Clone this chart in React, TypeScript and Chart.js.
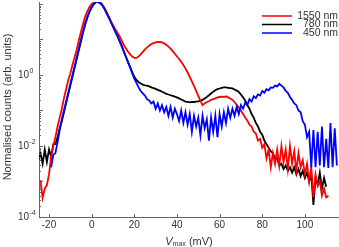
import { useEffect, useRef } from "react";
import { Chart, registerables } from "chart.js";
Chart.register(...registerables);

// x grid (mV)
const xs: number[] = [
  -25, -24, -23, -22, -21, -20, -19, -18, -17, -16,
  -15, -14, -13, -12, -11, -10, -9, -8, -7, -6,
  -5, -4, -3, -2, -1, 0, 1, 2, 3, 4,
  5, 6, 7, 8, 9, 10, 11, 12, 13, 14,
  15, 16, 17, 18, 19, 20, 21, 22, 23, 24,
  25, 26, 27, 28, 29, 30, 31, 32, 33, 34,
  35, 36, 37, 38, 39, 40, 41, 42, 43, 44,
  45, 46, 47, 48, 49, 50, 51, 52, 53, 54,
  55, 56, 57, 58, 59, 60, 61, 62, 63, 64,
  65, 66, 67, 68, 69, 70, 71, 72, 73, 74,
  75, 76, 77, 78, 79, 80, 81, 82, 83, 84,
  85, 86, 87, 88, 89, 90, 91, 92, 93, 94,
  95, 96, 97, 98, 99, 100, 101, 102, 103, 104,
  105, 106, 107, 108, 109, 110, 111, 112, 113, 114,
  115,
];

// log10 of normalised counts
const red1550: (number | null)[] = [
  null, -2.96, -3.46, -3.2, -3.1, -2.8, -2.3, -2.0, -1.75, -1.45,
  -1.2, -0.95, -0.65, -0.4, -0.15, 0.05, 0.28, 0.5, 0.72, 0.98,
  1.22, 1.45, 1.65, 1.8, 1.92, 2.0, 2.04, 2.06, 2.06, 2.03,
  1.97, 1.88, 1.76, 1.65, 1.52, 1.4, 1.3, 1.2, 1.1, 0.98,
  0.86, 0.75, 0.66, 0.58, 0.52, 0.48, 0.48, 0.52, 0.58, 0.65,
  0.72, 0.78, 0.83, 0.87, 0.9, 0.92, 0.93, 0.93, 0.92, 0.89,
  0.85, 0.8, 0.74, 0.67, 0.6, 0.52, 0.45, 0.37, 0.28, 0.18,
  0.07, -0.05, -0.18, -0.31, -0.45, -0.59, -0.72, -0.85, -0.8, -0.76,
  -0.74, -0.7, -0.68, -0.66, -0.63, -0.62, -0.61, -0.62, -0.6, -0.63,
  -0.66, -0.7, -0.76, -0.84, -0.92, -1.0, -1.1, -1.2, -1.28, -1.4,
  -1.45, -1.6, -1.65, -1.85, -1.8, -2.05, -1.95, -2.35, -2.1, -2.6,
  -2.2, -2.5, -2.1, -2.55, -2.0, -2.45, -2.1, -2.65, -2.0, -2.5,
  -2.15, -2.7, -2.2, -2.6, -2.4, -2.8, -2.5, -3.0, -2.6, -3.45,
  -2.8, -3.1, -3.0, -3.4, -3.2, -3.45, -3.4, null, null, null,
  null,
];

const black780: (number | null)[] = [
  -2.4, -2.2, -2.5, -2.1, -2.45, -2.1, -2.3, -1.95, -1.95, -1.75,
  -1.5, -1.3, -1.05, -0.8, -0.55, -0.3, -0.05, 0.2, 0.45, 0.7,
  0.95, 1.2, 1.43, 1.62, 1.78, 1.9, 1.99, 2.05, 2.07, 2.05,
  1.98, 1.88, 1.76, 1.63, 1.5, 1.37, 1.24, 1.12, 0.98, 0.84,
  0.68, 0.52, 0.37, 0.23, 0.08, -0.05, -0.14, -0.2, -0.24, -0.27,
  -0.29, -0.3, -0.32, -0.35, -0.37, -0.39, -0.42, -0.44, -0.47, -0.5,
  -0.53, -0.55, -0.57, -0.59, -0.61, -0.63, -0.66, -0.69, -0.72, -0.75,
  -0.76, -0.77, -0.76, -0.76, -0.75, -0.74, -0.72, -0.7, -0.66, -0.62,
  -0.57, -0.52, -0.47, -0.43, -0.4, -0.38, -0.36, -0.35, -0.35, -0.36,
  -0.37, -0.38, -0.41, -0.44, -0.48, -0.55, -0.63, -0.72, -0.85, -0.95,
  -1.1, -1.2, -1.35, -1.45, -1.6, -1.68, -1.85, -1.95, -2.05, -2.15,
  -2.2, -2.35, -2.35, -2.55, -2.5, -2.65, -2.55, -2.7, -2.6, -2.75,
  -2.6, -2.8, -2.65, -2.85, -2.7, -2.9, -2.75, -3.0, -2.8, -3.66,
  -2.9, -3.1, -2.75, -3.2, -2.9, -3.15, null, null, null, null,
  null,
];

const blue450: (number | null)[] = [
  null, null, null, null, null, null, -2.6, -2.25, -2.2, -1.9,
  -1.55, -1.25, -1.0, -0.75, -0.5, -0.25, 0.0, 0.25, 0.5, 0.75,
  1.0, 1.24, 1.46, 1.64, 1.8, 1.92, 2.0, 2.05, 2.05, 2.02,
  1.96, 1.86, 1.74, 1.62, 1.49, 1.36, 1.23, 1.1, 0.96, 0.82,
  0.67, 0.52, 0.37, 0.22, 0.05, -0.1, -0.22, -0.35, -0.45, -0.52,
  -0.58, -0.68, -0.72, -0.8, -0.75, -0.95, -0.8, -1.0, -0.85, -1.05,
  -0.9, -1.15, -0.9, -1.2, -0.95, -1.1, -1.3, -1.0, -1.35, -1.05,
  -1.4, -1.1, -1.6, -1.15, -1.45, -1.2, -1.7, -1.15, -1.5, -1.25,
  -1.85, -1.2, -1.6, -1.15, -1.75, -1.1, -1.45, -1.05, -1.35, -0.95,
  -1.2, -0.95, -1.15, -0.9, -1.1, -0.85, -0.95, -0.78, -0.85, -0.68,
  -0.75, -0.6, -0.65, -0.55, -0.58, -0.45, -0.5, -0.4, -0.43, -0.35,
  -0.36, -0.3, -0.32, -0.25, -0.3, -0.35, -0.45, -0.5, -0.62, -0.7,
  -0.8, -0.85, -1.0, -1.05, -1.3, -1.4, -1.75, -1.6, -2.6, -1.55,
  -2.6, -1.6, -2.55, -1.45, -2.6, -1.8, -2.62, -1.35, -2.6, -1.5,
  -2.55,
];

const seriesLabels = ["1550 nm", "780 nm", "450 nm"];
const seriesColors = ["#ff0000", "#000000", "#0000ff"];
const xTickValues = [-20, 0, 20, 40, 60, 80, 100];
const yLabelExponents = [-4, -2, 0];

const FONT = '"Liberation Sans", Arial, Helvetica, sans-serif';
const AXIS = "#666666";
const TEXT = "#333333";

const toPoints = (logs: (number | null)[]) =>
  xs.map((x, i) => ({ x, y: logs[i] == null ? null : Math.pow(10, logs[i] as number) }));

const decorPlugin = {
  id: "decor",
  afterDraw(chart: any) {
    const { ctx, chartArea: a, scales } = chart;
    const sx = scales.x;
    const sy = scales.y;
    ctx.save();
    ctx.strokeStyle = AXIS;
    ctx.lineWidth = 1;
    ctx.beginPath();
    for (const v of xTickValues) {
      const px = Math.round(sx.getPixelForValue(v)) + 0.5;
      ctx.moveTo(px, a.bottom);
      ctx.lineTo(px, a.bottom - 3);
    }
    for (let e = -4; e <= 2; e++) {
      for (let m = 1; m <= 9; m++) {
        const v = m * Math.pow(10, e);
        if (v > sy.max) break;
        const py = Math.round(sy.getPixelForValue(v)) + 0.5;
        ctx.moveTo(a.left, py);
        ctx.lineTo(a.left + (m === 1 ? 4 : 2), py);
      }
    }
    ctx.stroke();

    ctx.fillStyle = TEXT;
    // x tick labels
    ctx.font = `10px ${FONT}`;
    ctx.textAlign = "center";
    ctx.textBaseline = "middle";
    for (const v of xTickValues) {
      ctx.fillText(String(v), sx.getPixelForValue(v), a.bottom + 8);
    }
    // y tick labels 10^e
    for (const e of yLabelExponents) {
      const py = sy.getPixelForValue(Math.pow(10, e));
      ctx.font = `10px ${FONT}`;
      ctx.textAlign = "right";
      ctx.textBaseline = "middle";
      ctx.fillText("10", 29, py);
      ctx.font = `7px ${FONT}`;
      ctx.textAlign = "left";
      ctx.fillText(String(e), 29.5, py - 4);
    }
    // y title
    ctx.save();
    ctx.translate(8, 107);
    ctx.rotate(-Math.PI / 2);
    ctx.font = `11px ${FONT}`;
    ctx.textAlign = "center";
    ctx.textBaseline = "middle";
    ctx.fillText("Normalised counts (arb. units)", 0, 0);
    ctx.restore();
    // x title
    ctx.textBaseline = "alphabetic";
    ctx.textAlign = "left";
    ctx.font = `italic 11px ${FONT}`;
    const partV = "V";
    const partSub = "max";
    const partRest = " (mV)";
    const wV = ctx.measureText(partV).width;
    ctx.font = `7px ${FONT}`;
    const wS = ctx.measureText(partSub).width;
    ctx.font = `11px ${FONT}`;
    const wR = ctx.measureText(partRest).width;
    let tx = (a.left + a.right) / 2 - (wV + wS + wR) / 2;
    const base = 245;
    ctx.font = `italic 11px ${FONT}`;
    ctx.fillText(partV, tx, base);
    tx += wV;
    ctx.font = `7px ${FONT}`;
    ctx.fillText(partSub, tx, base + 1);
    tx += wS;
    ctx.font = `11px ${FONT}`;
    ctx.fillText(partRest, tx, base);

    // legend
    const ly = [16, 24.5, 33];
    ctx.font = `10.5px ${FONT}`;
    ctx.textAlign = "right";
    ctx.textBaseline = "middle";
    seriesLabels.forEach((lab, i) => {
      ctx.strokeStyle = seriesColors[i];
      ctx.lineWidth = 1.5;
      ctx.beginPath();
      ctx.moveTo(262, ly[i]);
      ctx.lineTo(292, ly[i]);
      ctx.stroke();
      ctx.fillStyle = TEXT;
      ctx.fillText(lab, 338, ly[i]);
    });
    ctx.restore();
  },
};

export default function App() {
  const ref = useRef<HTMLCanvasElement | null>(null);
  useEffect(() => {
    if (!ref.current) return;
    const seriesLogs = [red1550, black780, blue450];
    const orders = [1, 2, 0];
    const chart = new Chart(ref.current, {
      type: "line",
      data: {
        datasets: seriesLogs.map((logs, i) => ({
          label: seriesLabels[i],
          data: toPoints(logs) as any,
          borderColor: seriesColors[i],
          borderWidth: 1.8,
          pointRadius: 0,
          tension: 0,
          spanGaps: false,
          order: orders[i],
        })),
      },
      options: {
        animation: false,
        responsive: false,
        maintainAspectRatio: false,
        layout: { padding: { top: 2, left: 0, right: 0, bottom: 0 } },
        plugins: { legend: { display: false }, tooltip: { enabled: false } },
        scales: {
          x: {
            type: "linear",
            min: -24.7,
            max: 116,
            ticks: { display: false },
            grid: { display: false },
            border: { display: true, color: AXIS, width: 1 },
            afterFit: (s: any) => {
              s.height = 30;
            },
          },
          y: {
            type: "logarithmic",
            min: 1e-4,
            max: 113.8,
            ticks: { display: false },
            grid: { display: false },
            border: { display: true, color: AXIS, width: 1 },
            afterFit: (s: any) => {
              s.width = 39;
            },
          },
        },
      },
      plugins: [decorPlugin],
    });
    return () => chart.destroy();
  }, []);
  return (
    <div style={{ position: "fixed", left: 0, top: 0, width: 339, height: 247, background: "#fff" }}>
      <canvas ref={ref} width={339} height={247} style={{ display: "block" }} />
    </div>
  );
}
